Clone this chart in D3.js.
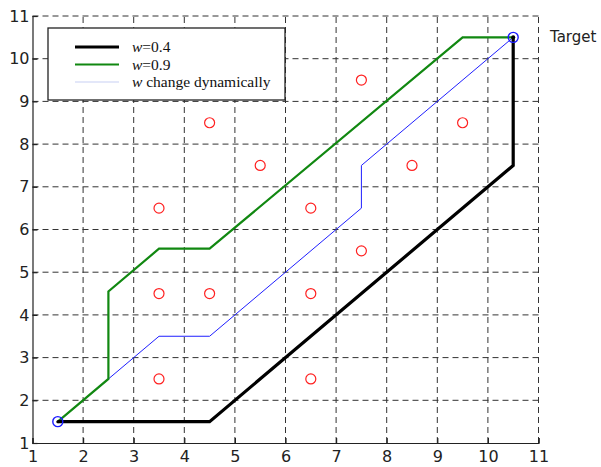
<!DOCTYPE html>
<html><head><meta charset="utf-8">
<script src="https://cdn.jsdelivr.net/npm/d3@7"></script>
<style>body{margin:0;background:#fff}svg{display:block}</style>
</head><body>
<script>
const xTicks = [1,2,3,4,5,6,7,8,9,10,11];
const yTicks = [1,2,3,4,5,6,7,8,9,10,11];
const pathW04 = [[1.5,1.5],[4.5,1.5],[10.5,7.5],[10.5,10.5]];
const pathW09 = [[1.5,1.5],[2.5,2.5],[2.5,4.55],[3.5,5.55],[4.5,5.55],[9.5,10.5],[10.5,10.5]];
const pathDyn = [[1.5,1.5],[3.5,3.5],[4.5,3.5],[7.5,6.5],[7.5,7.5],[10.5,10.5]];
const obstacles = [[3.5,2.5],[3.5,4.5],[4.5,4.5],[3.5,6.5],[4.5,8.5],[5.5,7.5],[6.5,6.5],[6.5,4.5],[6.5,2.5],[7.5,5.5],[7.5,9.5],[8.5,7.5],[9.5,8.5]];
const startPt = [1.5,1.5];
const targetPt = [10.5,10.5];
const legendLabels = ["=0.4","=0.9"," change dynamically"];

const W=601,H=467;
const svg=d3.select("body").append("svg").attr("width",W).attr("height",H);
const x=d3.scaleLinear().domain([1,11]).range([32.5,538.5]);
const y=d3.scaleLinear().domain([1,11]).range([443,16]);

// grid
const g=svg.append("g");
g.selectAll(".vg").data(xTicks.slice(1)).enter().append("line")
 .attr("x1",d=>x(d)).attr("x2",d=>x(d)).attr("y1",y(1)).attr("y2",y(11))
 .attr("stroke","#333").attr("stroke-width",1).attr("stroke-dasharray","6,4");
g.selectAll(".hg").data(yTicks.slice(1)).enter().append("line")
 .attr("y1",d=>y(d)).attr("y2",d=>y(d)).attr("x1",x(1)).attr("x2",x(11))
 .attr("stroke","#333").attr("stroke-width",1).attr("stroke-dasharray","6,4");

// axes
const fontSans="'DejaVu Sans', sans-serif";
const xAxis=d3.axisBottom(x).tickValues(xTicks).tickSize(-5).tickPadding(10);
const yAxis=d3.axisLeft(y).tickValues(yTicks).tickSize(-5).tickPadding(3);
const ax=svg.append("g").attr("transform",`translate(0,${y(1)})`).call(xAxis);
const ay=svg.append("g").attr("transform",`translate(${x(1)},0)`).call(yAxis);
[ax,ay].forEach(a=>{
  a.select(".domain").attr("stroke","#222").attr("stroke-width",1.2);
  a.selectAll(".tick line").attr("stroke","#222").attr("stroke-width",1.2);
  a.selectAll("text").attr("font-family",fontSans).attr("font-size",16).attr("fill","#222");
});
ax.selectAll("text").attr("dy","0.55em");

const line=d3.line().x(d=>x(d[0])).y(d=>y(d[1]));
svg.append("path").datum(pathDyn).attr("d",line).attr("fill","none").attr("stroke","#1f1fff").attr("stroke-width",1);
svg.append("path").datum(pathW09).attr("d",line).attr("fill","none").attr("stroke","#118811").attr("stroke-width",2.2);
svg.append("path").datum(pathW04).attr("d",line).attr("fill","none").attr("stroke","#000").attr("stroke-width",3.2).attr("stroke-linejoin","miter");

svg.selectAll(".obs").data(obstacles).enter().append("circle")
 .attr("cx",d=>x(d[0])).attr("cy",d=>y(d[1])).attr("r",5)
 .attr("fill","none").attr("stroke","#ff2020").attr("stroke-width",1.2);

[startPt,targetPt].forEach(p=>{
  svg.append("circle").attr("cx",x(p[0])).attr("cy",y(p[1])).attr("r",5)
   .attr("fill","none").attr("stroke","#1a1aff").attr("stroke-width",1.4);
});
svg.append("circle").attr("cx",x(targetPt[0])).attr("cy",y(targetPt[1])).attr("r",2).attr("fill","#000");
svg.append("circle").attr("cx",x(startPt[0])).attr("cy",y(startPt[1])).attr("r",1.5).attr("fill","#000");

svg.append("text").attr("x",550).attr("y",y(targetPt[1])+5).attr("font-family",fontSans)
 .attr("font-size",15).attr("fill","#222").text("Target");

// legend
const lg=svg.append("g");
lg.append("rect").attr("x",48).attr("y",28).attr("width",237).attr("height",72)
 .attr("fill","#fff").attr("stroke","#222").attr("stroke-width",1.3);
const lcol=["#000","#118811","#c8d0f4"], lw=[3.2,2.2,1.2];
legendLabels.forEach((t,i)=>{
  const yy=47+i*17.5;
  lg.append("line").attr("x1",75).attr("x2",119).attr("y1",yy).attr("y2",yy)
   .attr("stroke",lcol[i]).attr("stroke-width",lw[i]);
  const tx=lg.append("text").attr("x",132).attr("y",yy+5).attr("font-family","'Liberation Serif', serif")
   .attr("font-size",15.5).attr("fill","#111");
  tx.append("tspan").attr("font-style","italic").text("w");
  tx.append("tspan").text(t);
});
</script>
</body></html>
